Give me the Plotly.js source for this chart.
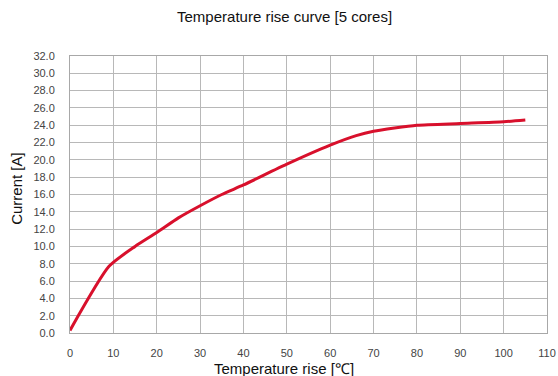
<!DOCTYPE html>
<html>
<head>
<meta charset="utf-8">
<script src="https://cdn.plot.ly/plotly-3.0.1.min.js"></script>
<style>html,body{margin:0;padding:0;background:#fff;}#chart{width:558px;height:376px;}</style>
</head>
<body>
<div id="chart"></div>
<script>
const tempRise = [0, 9, 15, 20, 25, 30, 35, 40, 50, 60, 66, 70, 80, 90, 100, 105];
const current = [0.3, 7.7, 10.0, 11.6, 13.3, 14.7, 16.0, 17.1, 19.5, 21.7, 22.8, 23.3, 24.0, 24.2, 24.4, 24.6];
const chartTitle = "Temperature rise curve [5 cores]";
const xTitle = "Temperature rise [℃]";
const yTitle = "Current [A]";

const trace = {
  x: tempRise, y: current, type: 'scatter', mode: 'lines',
  line: {color: '#d8102c', width: 3, shape: 'spline', smoothing: 0.6},
  hoverinfo: 'skip'
};
const fam = 'Liberation Sans, Arial, sans-serif';
const axisFont = {family: fam, size: 11, color: '#444'};
const titleFont = {family: fam, size: 15, color: '#111'};
const layout = {
  width: 558, height: 376,
  margin: {l: 70, r: 11, t: 56, b: 43},
  paper_bgcolor: '#fff', plot_bgcolor: '#fff',
  showlegend: false,
  title: {text: chartTitle, x: 0.51, xanchor: 'center', xref: 'container', y: 0.955, yanchor: 'middle', yref: 'container',
    font: titleFont},
  xaxis: {range: [0, 110], dtick: 10, tick0: 0, showgrid: true, gridcolor: '#b8b8b8', gridwidth: 1,
    showline: true, linecolor: '#a8a8a8', linewidth: 1, mirror: true, zeroline: false,
    ticks: '', ticklabelstandoff: 10, tickfont: axisFont},
  yaxis: {range: [0, 32], dtick: 2, tick0: 0, tickformat: '.1f', showgrid: true, gridcolor: '#b8b8b8', gridwidth: 1,
    showline: true, linecolor: '#a8a8a8', linewidth: 1, mirror: true, zeroline: false,
    ticks: '', ticklabelstandoff: 12, tickfont: axisFont},
  annotations: [
    {text: xTitle, xref: 'paper', yref: 'paper', x: (284 - 70) / 476.7, y: -(369 - 333.3) / 277.3, xanchor: 'center', yanchor: 'middle',
      showarrow: false, font: titleFont},
    {text: yTitle, xref: 'paper', yref: 'paper', x: (17 - 70) / 476.7, y: (333.3 - 188) / 277.3, xanchor: 'center', yanchor: 'middle',
      textangle: -90, showarrow: false, font: titleFont}
  ]
};
Plotly.newPlot('chart', [trace], layout, {displayModeBar: false, staticPlot: true});
</script>
</body>
</html>
